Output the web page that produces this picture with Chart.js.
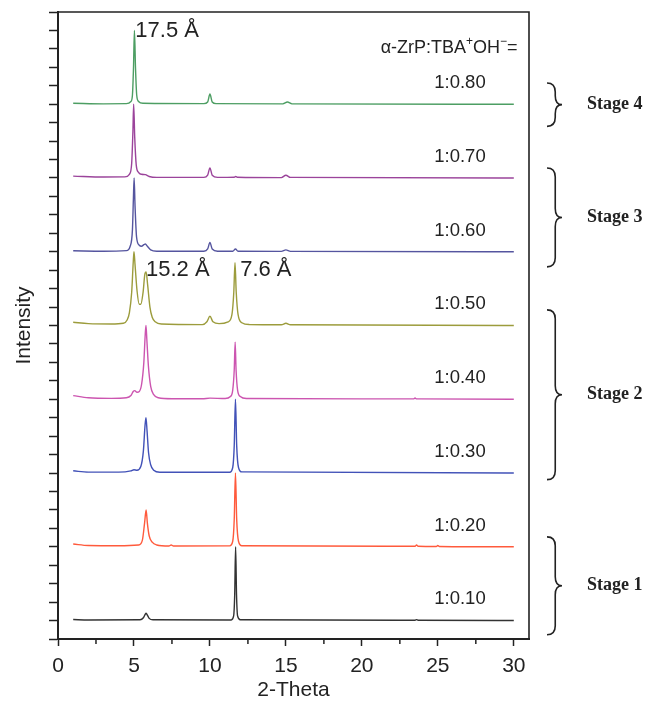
<!DOCTYPE html>
<html><head><meta charset="utf-8">
<script src="https://cdn.jsdelivr.net/npm/chart.js@4.4.0/dist/chart.umd.min.js"></script>
<style>html,body{margin:0;padding:0;background:#fff}</style>
</head><body>
<canvas id="c" width="645" height="704"></canvas>
<script>
// ---------- data ----------
const xTickValues = [0, 5, 10, 15, 20, 25, 30];
const xMinorTicks = [2.5, 7.5, 12.5, 17.5, 22.5, 27.5];
const ratioLabels = ['1:0.10', '1:0.20', '1:0.30', '1:0.40', '1:0.50', '1:0.60', '1:0.70', '1:0.80'];
const offsets = [1, 5, 9, 13, 17, 21, 25, 29];
const seriesColors = ['#333333', '#ff5a3c', '#4252b8', '#cc55b0', '#9c9c3c', '#55559f', '#9b449b', '#4d9e63'];

const s010 = [[1,0.06],[2,0.03],[5.4,0.04],[5.62,0.15],[5.73,0.32],[5.8,0.4],[5.88,0.3],[6.0,0.12],[6.25,0.04],[11.4,0.03],[11.56,0.25],[11.63,1.4],[11.69,4.0],[11.75,1.4],[11.82,0.25],[12.0,0.04],[23.5,0.02],[23.6,0.05],[23.7,0.02],[30,0.0]];
const s020 = [[1,0.15],[2,0.07],[4,0.06],[5.3,0.1],[5.55,0.35],[5.7,1.3],[5.8,2.0],[5.88,1.3],[6.0,0.6],[6.2,0.25],[6.5,0.1],[7.3,0.04],[7.45,0.1],[7.6,0.04],[11.3,0.05],[11.5,0.3],[11.6,1.5],[11.68,4.0],[11.76,1.5],[11.88,0.3],[12.1,0.06],[23.5,0.03],[23.6,0.1],[23.7,0.03],[24.9,0.02],[25.0,0.07],[25.1,0.02],[30,0.0]];
const s030 = [[1,0.12],[2,0.05],[4,0.05],[4.8,0.12],[5.0,0.18],[5.2,0.15],[5.45,0.35],[5.62,1.2],[5.73,2.6],[5.79,3.0],[5.86,2.3],[5.96,1.1],[6.1,0.45],[6.3,0.15],[6.7,0.04],[11.3,0.04],[11.5,0.3],[11.6,1.5],[11.68,4.0],[11.76,1.5],[11.88,0.3],[12.1,0.06],[30,0.0]];
const s040 = [[1,0.2],[2,0.08],[3.5,0.05],[4.5,0.08],[4.8,0.2],[4.95,0.42],[5.05,0.47],[5.2,0.38],[5.35,0.42],[5.5,0.8],[5.65,2.0],[5.74,3.5],[5.79,4.0],[5.85,3.2],[5.95,1.8],[6.1,0.7],[6.3,0.25],[6.6,0.08],[7.5,0.03],[9.5,0.03],[10,0.06],[11,0.04],[11.35,0.15],[11.5,0.5],[11.6,1.6],[11.66,3.1],[11.72,1.6],[11.82,0.5],[12.0,0.15],[12.4,0.04],[20,0.02],[23.4,0.02],[23.5,0.07],[23.6,0.02],[30,0.0]];
const s050 = [[1,0.18],[2,0.1],[3.5,0.08],[4.3,0.12],[4.55,0.3],[4.7,0.7],[4.85,1.8],[4.95,3.4],[5.0,4.0],[5.07,3.3],[5.2,1.9],[5.35,1.15],[5.45,1.15],[5.6,1.8],[5.72,2.8],[5.8,2.9],[5.9,2.2],[6.05,1.0],[6.2,0.45],[6.4,0.2],[6.8,0.08],[9.5,0.05],[9.8,0.2],[10.0,0.5],[10.2,0.2],[10.6,0.1],[11.2,0.2],[11.45,0.6],[11.57,1.8],[11.65,3.4],[11.73,1.8],[11.85,0.6],[12.1,0.15],[12.6,0.05],[14.7,0.04],[15.0,0.12],[15.3,0.04],[30,0.0]];
const s060 = [[1,0.05],[3,0.03],[4.5,0.06],[4.75,0.3],[4.9,1.2],[4.96,2.8],[5.01,4.0],[5.07,2.5],[5.17,0.8],[5.35,0.35],[5.5,0.3],[5.65,0.38],[5.75,0.42],[5.88,0.3],[6.1,0.1],[6.5,0.03],[9.6,0.03],[9.85,0.15],[10.0,0.5],[10.15,0.15],[10.5,0.03],[11.5,0.03],[11.68,0.15],[11.85,0.03],[14.7,0.02],[15.0,0.1],[15.3,0.02],[30,0.0]];
const s070 = [[1,0.1],[3,0.05],[4.4,0.06],[4.7,0.2],[4.85,0.8],[4.93,2.5],[4.98,4.0],[5.05,2.2],[5.15,0.7],[5.3,0.3],[5.5,0.2],[5.75,0.18],[6.0,0.08],[6.5,0.03],[9.6,0.03],[9.85,0.15],[10.0,0.55],[10.15,0.15],[10.5,0.03],[11.6,0.04],[11.7,0.08],[11.8,0.04],[14.7,0.02],[15.0,0.15],[15.3,0.03],[30,0.0]];
const s080 = [[1,0.05],[3,0.02],[4.5,0.03],[4.8,0.15],[4.9,0.5],[4.97,2.0],[5.03,4.0],[5.1,2.0],[5.18,0.5],[5.3,0.15],[5.6,0.05],[9.6,0.03],[9.85,0.12],[10.0,0.55],[10.15,0.12],[10.4,0.03],[14.8,0.02],[15.1,0.12],[15.4,0.02],[30,0.0]];
const allSeries = [s010, s020, s030, s040, s050, s060, s070, s080];

const peakLabels = [['17.5 Å', 5.09, 33.0], ['15.2 Å', 5.79, 20.0], ['7.6 Å', 11.99, 20.0]];
const stageNames = ['Stage 1', 'Stage 2', 'Stage 3', 'Stage 4'];
const stageRanges = [[0.23, 5.54], [8.64, 17.85], [20.18, 25.54], [27.8, 30.15]];

// ---------- chart ----------
const datasets = allSeries.map((s, i) => ({
  label: ratioLabels[i],
  data: s.map(p => ({ x: p[0], y: p[1] + offsets[i] })),
  borderColor: seriesColors[i],
  borderWidth: 1.4,
  pointRadius: 0,
  fill: false,
  cubicInterpolationMode: 'monotone'
}));

const SANS = "'Liberation Sans', Arial, sans-serif";
const SERIF = "'Liberation Serif', 'Times New Roman', serif";

function drawBrace(ctx, x0, yTop, yBot, w) {
  const xm = x0 + w * 0.55, xt = x0 + w, ym = (yTop + yBot) / 2;
  const r = Math.min(9, (yBot - yTop) / 4);
  ctx.beginPath();
  ctx.moveTo(x0, yTop);
  ctx.quadraticCurveTo(xm, yTop, xm, yTop + r);
  ctx.lineTo(xm, ym - r);
  ctx.quadraticCurveTo(xm, ym, xt, ym);
  ctx.quadraticCurveTo(xm, ym, xm, ym + r);
  ctx.lineTo(xm, yBot - r);
  ctx.quadraticCurveTo(xm, yBot, x0, yBot);
  ctx.stroke();
}

const annot = {
  id: 'annot',
  afterDraw(chart) {
    const { ctx, chartArea: a, scales: { x, y } } = chart;
    ctx.save();
    ctx.strokeStyle = '#222';
    ctx.lineWidth = 1.6;
    ctx.beginPath();
    ctx.moveTo(a.left, a.top); ctx.lineTo(a.right, a.top); ctx.lineTo(a.right, a.bottom);
    ctx.stroke();
    // minor x ticks
    ctx.lineWidth = 1.5;
    xMinorTicks.forEach(v => {
      const px = x.getPixelForValue(v);
      ctx.beginPath(); ctx.moveTo(px, a.bottom); ctx.lineTo(px, a.bottom + 5); ctx.stroke();
    });
    ctx.fillStyle = '#222';
    ctx.textBaseline = 'middle';
    // peak labels
    ctx.font = '22px ' + SANS;
    ctx.textAlign = 'left';
    peakLabels.forEach(p => ctx.fillText(p[0], x.getPixelForValue(p[1]), y.getPixelForValue(p[2])));
    // ratio labels
    ctx.font = '18.5px ' + SANS;
    ctx.textAlign = 'right';
    ratioLabels.forEach((t, i) => ctx.fillText(t, x.getPixelForValue(28.15), y.getPixelForValue(offsets[i] + 1.15)));
    // header
    const parts = [['α-ZrP:TBA', 18, 0], ['+', 12, -6], ['OH', 18, 0], ['−', 12, -6], ['=', 18, 0]];
    ctx.textAlign = 'left';
    let tw = 0;
    parts.forEach(p => { ctx.font = p[1] + 'px ' + SANS; tw += ctx.measureText(p[0]).width; });
    let hx = x.getPixelForValue(30.25) - tw;
    const hy = y.getPixelForValue(32.05);
    parts.forEach(p => { ctx.font = p[1] + 'px ' + SANS; ctx.fillText(p[0], hx, hy + p[2]); hx += ctx.measureText(p[0]).width; });
    // stage braces
    ctx.lineWidth = 1.6;
    ctx.font = 'bold 18px ' + SERIF;
    stageRanges.forEach((r, i) => {
      const yT = y.getPixelForValue(r[1]), yB = y.getPixelForValue(r[0]);
      drawBrace(ctx, 547, yT, yB, 15);
      ctx.fillText(stageNames[i], 587, (yT + yB) / 2);
    });
    ctx.restore();
  }
};

new Chart(document.getElementById('c'), {
  type: 'line',
  data: { datasets },
  plugins: [annot],
  options: {
    responsive: false,
    animation: false,
    layout: { padding: { left: 0, top: 12, right: 116, bottom: 0 } },
    plugins: { legend: { display: false }, tooltip: { enabled: false } },
    scales: {
      x: {
        type: 'linear', min: 0, max: 31,
        afterBuildTicks: s => { s.ticks = xTickValues.map(v => ({ value: v })); },
        afterFit: s => { s.height = 65; },
        ticks: { font: { family: SANS, size: 21 }, color: '#222', padding: 8, maxRotation: 0, autoSkip: false },
        grid: { drawOnChartArea: false, drawTicks: true, tickLength: 7, tickWidth: 1.5, tickColor: '#222' },
        border: { display: true, width: 2, color: '#222' },
        title: { display: true, text: '2-Theta', font: { family: SANS, size: 21 }, color: '#222', padding: { top: 0, bottom: 1 } }
      },
      y: {
        type: 'linear', min: 0, max: 34,
        afterBuildTicks: s => { const t = []; for (let v = 0; v <= 34; v++) t.push({ value: v }); s.ticks = t; },
        afterFit: s => { s.width = 58; },
        ticks: { display: false },
        grid: { drawOnChartArea: false, drawTicks: true, tickLength: 9, tickWidth: 1.5, tickColor: '#222' },
        border: { display: true, width: 2, color: '#222' },
        title: { display: true, text: 'Intensity', font: { family: SANS, size: 21 }, color: '#222', padding: { top: 12, bottom: 0 } }
      }
    }
  }
});
</script>
</body></html>
